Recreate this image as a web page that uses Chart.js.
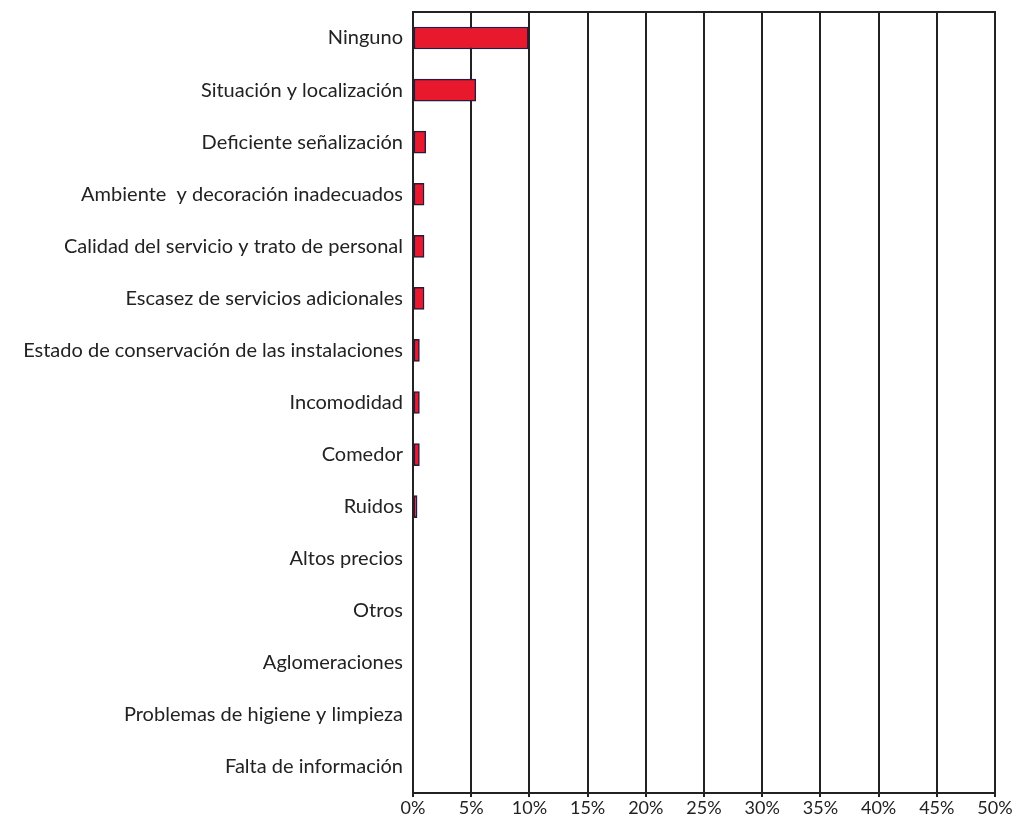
<!DOCTYPE html>
<html>
<head>
<meta charset="utf-8">
<script src="https://cdn.jsdelivr.net/npm/chart.js@4"></script>
<style>
  html, body { margin: 0; padding: 0; background: #fff; }
</style>
</head>
<body>
<canvas id="myChart" width="1012" height="814"></canvas>
<script>
const categorias = [
  "Ninguno",
  "Situación y localización",
  "Deficiente señalización",
  "Ambiente  y decoración inadecuados",
  "Calidad del servicio y trato de personal",
  "Escasez de servicios adicionales",
  "Estado de conservación de las instalaciones",
  "Incomodidad",
  "Comedor",
  "Ruidos",
  "Altos precios",
  "Otros",
  "Aglomeraciones",
  "Problemas de higiene y limpieza",
  "Falta de información"
]
const valores = [9.9, 5.4, 1.1, 0.95, 0.95, 0.95, 0.55, 0.55, 0.55, 0.35, 0, 0, 0, 0, 0]
const ticksX = [0, 5, 10, 15, 20, 25, 30, 35, 40, 45, 50]

const ctx = document.querySelector("#myChart")

// marco del area del grafico
const marco = {
  id: "marco",
  afterDraw(chart) {
    const a = chart.chartArea
    const c = chart.ctx
    c.save()
    c.strokeStyle = "#222"
    c.lineWidth = 2
    c.strokeRect(a.left, a.top, a.right - a.left, a.bottom - a.top)
    c.restore()
  }
}

const chart = new Chart(ctx, {
  type: "bar",
  data: {
    labels: categorias,
    datasets: [{
      data: valores,
      backgroundColor: "#e8192c",
      borderColor: "#2a1a40",
      borderWidth: 1.5,
      borderSkipped: false,
      barThickness: 22
    }]
  },
  options: {
    indexAxis: "y",
    responsive: false,
    animation: false,
    layout: { padding: { top: 12, right: 17, left: 0, bottom: 0 } },
    plugins: { legend: { display: false }, tooltip: { enabled: false } },
    scales: {
      x: {
        min: 0,
        max: 50,
        afterBuildTicks: (axis) => { axis.ticks = ticksX.map(v => ({ value: v })) },
        afterFit: (axis) => { axis.height = 21; axis.paddingLeft = 0; axis.paddingRight = 0 },
        grid: { color: "#222", lineWidth: 2, drawTicks: true, tickLength: 4 },
        border: { color: "#222", width: 2 },
        ticks: {
          padding: 0,
          color: "#222",
          font: { family: "Lato", size: 18 },
          callback: (v) => v + "%"
        }
      },
      y: {
        afterFit: (axis) => { axis.width = 413; axis.paddingTop = 0; axis.paddingBottom = 0 },
        grid: { display: false },
        border: { color: "#222", width: 2 },
        ticks: {
          padding: 2,
          color: "#222",
          font: { family: "Lato", size: 20 },
          autoSkip: false
        }
      }
    }
  },
  plugins: [marco]
})
</script>
</body>
</html>
